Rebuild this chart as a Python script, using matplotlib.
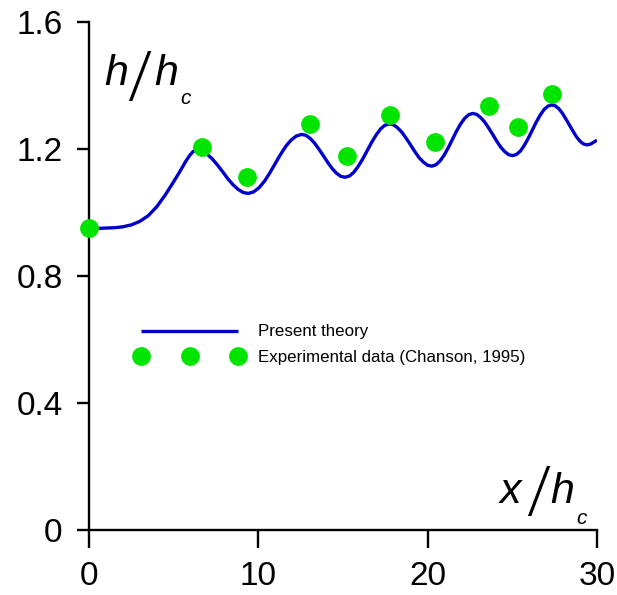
import matplotlib
matplotlib.use("Agg")
import matplotlib.pyplot as plt

plt.rcParams['font.family'] = ['Liberation Sans', 'DejaVu Sans']

# Present theory curve
theory_x = [0.0, 0.5, 1.0, 1.5, 2.0, 2.5, 3.0, 3.5, 4.0, 4.5, 5.0, 5.4, 5.7, 5.95, 6.15, 6.36,
            6.665, 6.97, 7.275, 7.58, 7.885, 8.19, 8.495, 8.80, 9.105, 9.41,
            9.725, 10.04, 10.355, 10.67, 10.985, 11.30, 11.615, 11.93, 12.245, 12.56,
            12.816, 13.072, 13.328, 13.584, 13.84, 14.096, 14.352, 14.608, 14.864, 15.12,
            15.382, 15.644, 15.906, 16.168, 16.43, 16.692, 16.954, 17.216, 17.478, 17.74,
            17.99, 18.24, 18.49, 18.74, 18.99, 19.24, 19.49, 19.74, 19.99, 20.24,
            20.482, 20.724, 20.966, 21.208, 21.45, 21.692, 21.934, 22.176, 22.418, 22.66,
            22.896, 23.132, 23.368, 23.604, 23.84, 24.076, 24.312, 24.548, 24.784, 25.02,
            25.251, 25.482, 25.713, 25.944, 26.175, 26.406, 26.637, 26.868, 27.099, 27.33,
            27.537, 27.744, 27.951, 28.158, 28.365, 28.572, 28.779, 28.986, 29.193, 29.40,
            29.6, 29.8, 30.0]
theory_y = [0.950, 0.950, 0.951, 0.952, 0.955, 0.961, 0.972, 0.990, 1.018, 1.055, 1.097, 1.132, 1.160, 1.180, 1.192, 1.197,
            1.194, 1.184, 1.169, 1.150, 1.129, 1.107, 1.088, 1.073, 1.063, 1.060,
            1.065, 1.078, 1.098, 1.124, 1.153, 1.182, 1.208, 1.228, 1.241, 1.246,
            1.243, 1.233, 1.218, 1.199, 1.179, 1.158, 1.139, 1.124, 1.114, 1.111,
            1.115, 1.127, 1.146, 1.169, 1.195, 1.221, 1.244, 1.263, 1.275, 1.279,
            1.276, 1.266, 1.252, 1.233, 1.213, 1.192, 1.173, 1.159, 1.149, 1.146,
            1.150, 1.162, 1.180, 1.203, 1.229, 1.255, 1.278, 1.296, 1.308, 1.312,
            1.309, 1.299, 1.285, 1.266, 1.246, 1.225, 1.206, 1.192, 1.182, 1.179,
            1.183, 1.194, 1.212, 1.234, 1.259, 1.284, 1.306, 1.324, 1.335, 1.339,
            1.336, 1.327, 1.313, 1.295, 1.276, 1.257, 1.239, 1.225, 1.216, 1.213,
            1.215, 1.221, 1.228]

# Experimental data (Chanson, 1995)
exp_x = [0.0, 6.67, 9.35, 13.05, 15.22, 17.78, 20.42, 23.65, 25.36, 27.33]
exp_y = [0.951, 1.207, 1.111, 1.279, 1.179, 1.307, 1.223, 1.336, 1.268, 1.372]

x_ticks = [0, 10, 20, 30]
y_ticks = [0, 0.4, 0.8, 1.2, 1.6]
y_ticklabels = ['0', '0.4', '0.8', '1.2', '1.6']

W, H = 617, 595
fig = plt.figure(figsize=(W / 100, H / 100), dpi=100)
ax = fig.add_axes([89 / W, 1 - 530 / H, (597 - 89) / W, (530 - 22) / H])

ax.plot(theory_x, theory_y, color='#0000cc', lw=2.4, label='Present theory', zorder=2,
        solid_joinstyle='round', solid_capstyle='butt')
ax.plot(exp_x, exp_y, linestyle='none', marker='o', ms=12.5, color='#00e400',
        mec='#00e400', label='Experimental data (Chanson, 1995)', zorder=3, clip_on=False)

ax.set_xlim(0, 30)
ax.set_ylim(0, 1.6)
ax.set_xticks(x_ticks)
ax.set_yticks(y_ticks)
ax.set_yticklabels(y_ticklabels)

for s in ['top', 'right']:
    ax.spines[s].set_visible(False)
for s in ['left', 'bottom']:
    ax.spines[s].set_linewidth(1.7)
    ax.spines[s].set_color('black')

ax.tick_params(axis='x', direction='out', length=13, width=1.7, pad=9, labelsize=24)
ax.tick_params(axis='y', direction='out', length=9, width=1.7, pad=10, labelsize=24)


def px(x, y):
    return x / W, 1 - y / H


lab_kw = dict(transform=fig.transFigure, ha='left', va='baseline', style='italic',
              fontfamily=['Liberation Sans', 'DejaVu Sans'])
slash_kw = dict(transform=fig.transFigure, ha='left', va='baseline',
                fontfamily=['Roboto', 'Liberation Sans', 'DejaVu Sans'], fontweight=300)

# y-axis label  h / h_c
fig.text(*px(104, 85), 'h', fontsize=31, **lab_kw)
fig.text(*px(127, 97), '/', fontsize=46, **slash_kw)
fig.text(*px(154, 85), 'h', fontsize=31, **lab_kw)
fig.text(*px(180, 104), 'c', fontsize=15, **lab_kw)

# x-axis label  x / h_c
fig.text(*px(500, 503), 'x', fontsize=31, **lab_kw)
fig.text(*px(526, 512), '/', fontsize=46, **slash_kw)
fig.text(*px(550, 503), 'h', fontsize=31, **lab_kw)
fig.text(*px(576, 524), 'c', fontsize=15, **lab_kw)

leg = ax.legend(loc='upper left', bbox_to_anchor=px(135.6, 324.5),
                bbox_transform=fig.transFigure, frameon=False, numpoints=3,
                fontsize=12.2, handlelength=6.37, handletextpad=0.88,
                labelspacing=0.6, borderpad=0, borderaxespad=0)

fig.savefig('out.png', dpi=100)
